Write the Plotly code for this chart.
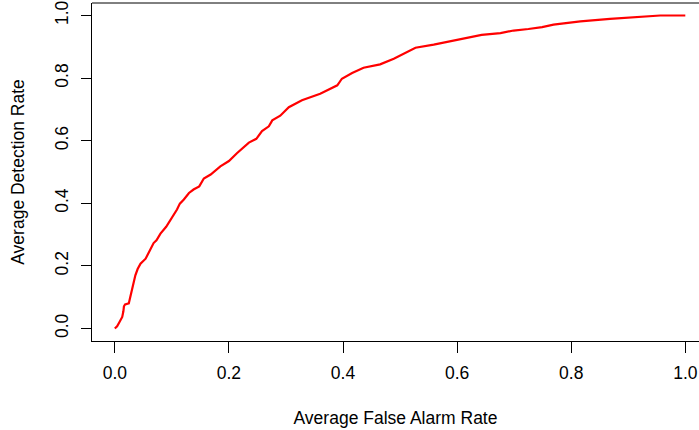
import plotly.graph_objects as go

false_alarm = [0, 0.004, 0.008, 0.013, 0.015, 0.016, 0.018, 0.0245, 0.027, 0.030,
               0.032, 0.036, 0.040, 0.045, 0.054, 0.060, 0.0625, 0.068, 0.073, 0.080,
               0.090, 0.0975, 0.106, 0.109, 0.114, 0.121, 0.130, 0.138, 0.148, 0.156,
               0.168, 0.185, 0.200, 0.214, 0.235, 0.248, 0.258, 0.270, 0.276, 0.290,
               0.305, 0.328, 0.360, 0.390, 0.398, 0.416, 0.436, 0.465, 0.489, 0.515,
               0.527, 0.559, 0.588, 0.623, 0.643, 0.676, 0.699, 0.725, 0.749, 0.769,
               0.816, 0.868, 0.920, 0.956, 1.0]
detection = [0, 0.007, 0.020, 0.037, 0.055, 0.071, 0.077, 0.080, 0.100, 0.122,
             0.144, 0.170, 0.190, 0.207, 0.223, 0.245, 0.250, 0.273, 0.282, 0.303,
             0.325, 0.346, 0.372, 0.380, 0.399, 0.412, 0.433, 0.444, 0.454, 0.479,
             0.492, 0.518, 0.535, 0.560, 0.594, 0.606, 0.631, 0.646, 0.665, 0.680,
             0.707, 0.729, 0.750, 0.777, 0.798, 0.816, 0.833, 0.844, 0.862, 0.886,
             0.897, 0.907, 0.918, 0.929, 0.938, 0.944, 0.952, 0.957, 0.963, 0.971,
             0.981, 0.989, 0.995, 1.0, 1.0]
tick_vals = [0.0, 0.2, 0.4, 0.6, 0.8, 1.0]
tick_text = ["0.0", "0.2", "0.4", "0.6", "0.8", "1.0"]

FONT = "Liberation Sans, Arial, sans-serif"

fig = go.Figure()
fig.add_trace(go.Scatter(x=false_alarm, y=detection, mode="lines",
                         line=dict(color="#ff0000", width=2.2), showlegend=False,
                         hoverinfo="skip", cliponaxis=False))

fig.update_layout(
    width=699, height=430,
    margin=dict(l=91.5, r=0, t=2.5, b=89.2, pad=0),
    paper_bgcolor="white", plot_bgcolor="white",
    font=dict(family=FONT, size=17.5, color="#000000"),
    xaxis=dict(range=[-0.04, 1.024], tickvals=tick_vals, ticktext=tick_text,
               automargin=False,
               ticks="outside", ticklen=11, tickcolor="#000000", tickwidth=1,
               ticklabelstandoff=5,
               showline=True, linecolor="#000000", linewidth=1, mirror=False,
               showgrid=False, zeroline=False,
               title=dict(text="Average False Alarm Rate", standoff=29,
                          font=dict(size=17.5))),
    yaxis=dict(range=[-0.04, 1.04], tickvals=tick_vals, ticktext=tick_text,
               automargin=False,
               ticks="outside", ticklen=10, tickcolor="#000000", tickwidth=1,
               tickangle=-90, ticklabelstandoff=6,
               showline=True, linecolor="#000000", linewidth=1, mirror=False,
               showgrid=False, zeroline=False,
               title=dict(text="Average Detection Rate", standoff=22,
                          font=dict(size=17.5))),
    shapes=[dict(type="line", xref="paper", yref="paper", x0=0, x1=1.02, y0=1, y1=1,
                 line=dict(color="#000000", width=1))],
)

fig.write_html("out.html",
               config={"displayModeBar": False, "staticPlot": True},
               post_script="document.body.style.margin='0';document.body.style.overflow='hidden';")
